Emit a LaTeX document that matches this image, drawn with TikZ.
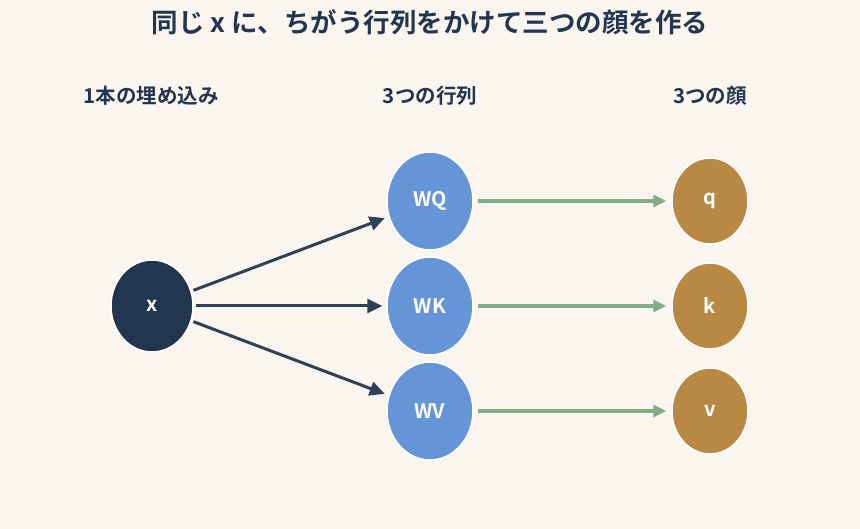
\documentclass[tikz,border=0pt]{standalone}
\usepackage{fontspec}
\setmainfont{Noto Sans CJK JP}[BoldFont={Noto Sans CJK JP Bold}]
\usepackage{xcolor}
\usetikzlibrary{arrows.meta,positioning,shapes.geometric}
\definecolor{bgcream}{HTML}{FAF6EF}
\definecolor{navy}{HTML}{22364F}
\definecolor{wblue}{HTML}{6595D6}
\definecolor{facegold}{HTML}{B98842}
\definecolor{sage}{HTML}{80AC88}
\definecolor{inkdark}{HTML}{2D4256}
\tikzstyle{embnode} = [ellipse, draw=white, line width=1.5pt, fill=navy,
    minimum width=82pt, minimum height=92pt, inner sep=0pt, text=white,
    font=\bfseries\fontsize{20}{22}\selectfont]
\tikzstyle{matnode} = [embnode, fill=wblue, minimum width=86pt, minimum height=98pt]
\tikzstyle{facenode} = [embnode, fill=facegold, minimum width=76pt, minimum height=86pt]
\tikzstyle{colhead} = [text=navy, font=\bfseries\fontsize{20.5}{22}\selectfont]
\tikzstyle{proj} = [draw=inkdark, line width=3pt, -{Triangle[length=15pt,width=14pt]},
    shorten >=4pt, shorten <=2pt]
\tikzstyle{emit} = [draw=sage, line width=4pt, -{Triangle[length=13pt,width=12pt]},
    shorten >=5pt, shorten <=4pt]

\begin{document}
\begin{tikzpicture}[x=1pt,y=-1pt]
\fill[bgcream] (0,0) rectangle (860,529);
\useasboundingbox (0,0) rectangle (860,529);
\node[text=navy, font=\bfseries\fontsize{26.5}{30}\selectfont] (title) at (430,22)
    {同じ x に、ちがう行列をかけて三つの顔を作る};
\node[colhead] (h1) at (151,96) {1本の埋め込み};
\node[colhead] (h2) at (430,96) {3つの行列};
\node[colhead] (h3) at (710,96) {3つの顔};
% input, matrices, outputs
\node[embnode] (x) at (152,306) {x};
\node[matnode] (WK) at (430,306) {WK};
\node[matnode, above=5.5pt of WK] (WQ) {WQ};
\node[matnode, below=5.5pt of WK] (WV) {WV};
\node[facenode] (k) at (710,306) {k};
\node[facenode] (q) at (710,201) {q};
\node[facenode] (v) at (710,411) {v};
\draw[proj] (x) -- (WQ);
\draw[proj] (x) -- (WK);
\draw[proj] (x) -- (WV);
\foreach \m/\f in {WQ/q, WK/k, WV/v}
    \draw[emit] (\m) -- (\f);
\end{tikzpicture}
\end{document}
